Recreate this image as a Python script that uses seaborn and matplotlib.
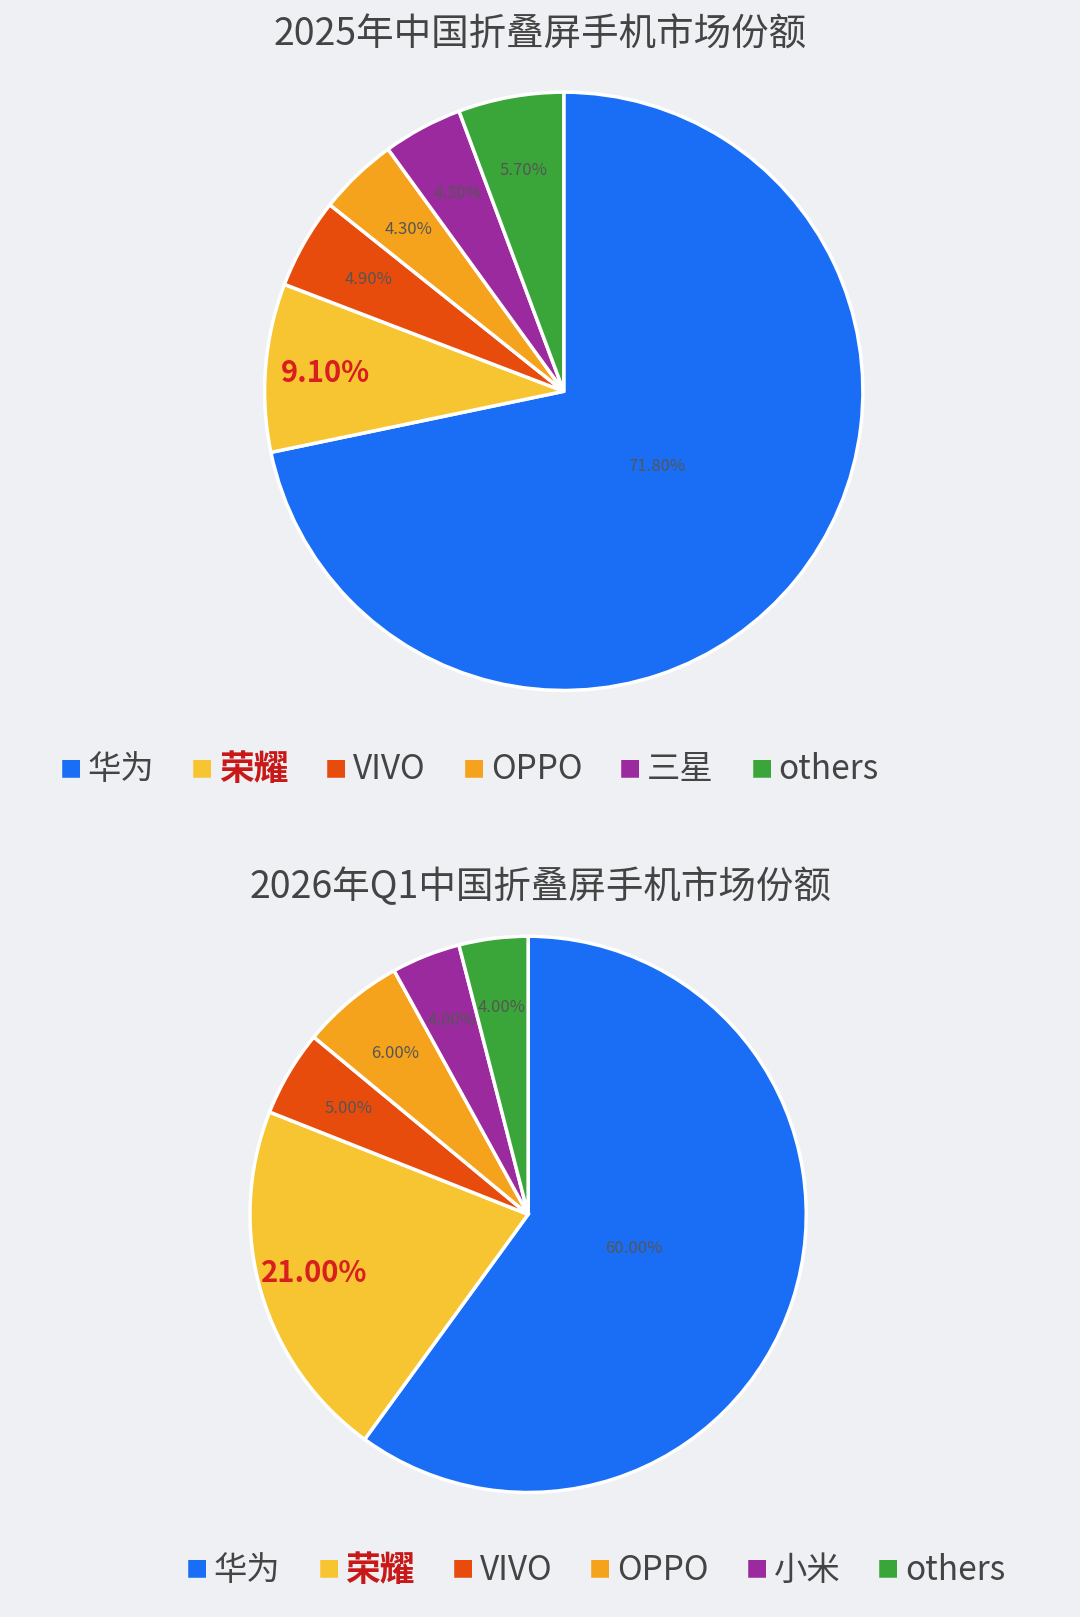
import matplotlib
matplotlib.use("Agg")
import matplotlib.pyplot as plt
import seaborn as sns
import numpy as np

sns.set_theme(style="white")
plt.rcParams['font.family'] = ['Noto Sans CJK SC', 'DejaVu Sans']

title_2025 = "2025年中国折叠屏手机市场份额"
brands_2025 = ["华为", "荣耀", "VIVO", "OPPO", "三星", "others"]
share_2025 = [71.8, 9.1, 4.9, 4.3, 4.3, 5.7]

title_2026 = "2026年Q1中国折叠屏手机市场份额"
brands_2026 = ["华为", "荣耀", "VIVO", "OPPO", "小米", "others"]
share_2026 = [60.0, 21.0, 5.0, 6.0, 4.0, 4.0]

colors = sns.color_palette(["#1a6ef5", "#f7c531", "#e84c0c", "#f5a21c", "#9b2a9e", "#3aa63a"])

fig = plt.figure(figsize=(10.8, 16.17), dpi=100)
fig.patch.set_facecolor("#eef0f3")


def draw_pie(rect, values, brands, title, title_y, legend_y, legend_x0):
    ax = fig.add_axes(rect)
    wedges, texts = ax.pie(values, colors=colors, startangle=90, counterclock=False,
                           wedgeprops=dict(edgecolor="white", linewidth=2.5))
    ax.set_xlim(-1.0, 1.0)
    ax.set_ylim(-1.0, 1.0)
    ax.set_aspect("equal")
    for i, (w, v) in enumerate(zip(wedges, values)):
        ang = np.deg2rad((w.theta1 + w.theta2) / 2)
        r = 0.4 if i == 0 else 0.75
        x, y = r * np.cos(ang), r * np.sin(ang)
        if i == 1:
            ax.text(x - 0.05, y, f"{v:.2f}%", ha="center", va="center",
                    fontsize=21, fontweight="bold", color="#d81e1e")
        else:
            ax.text(x, y, f"{v:.2f}%", ha="center", va="center",
                    fontsize=12, color="#555555")
    fig.text(0.5, title_y, title, ha="center", va="center", fontsize=27, color="#444444")
    x = legend_x0
    for i, (name, c) in enumerate(zip(brands, colors)):
        fig.text(x, legend_y, "■", color=c, fontsize=16, ha="left", va="center")
        if i == 1:
            t = fig.text(x + 0.026, legend_y, name, fontsize=25, fontweight="bold",
                         color="#c81818", ha="left", va="center")
        else:
            t = fig.text(x + 0.026, legend_y, name, fontsize=24,
                         color="#444444", ha="left", va="center")
        fig.canvas.draw()
        bb = t.get_window_extent()
        x = bb.x1 / fig.bbox.width + 0.034


draw_pie([0.245, 0.573, 0.554, 0.370], share_2025, brands_2025, title_2025, 0.978, 0.524, 0.055)
draw_pie([0.231, 0.077, 0.516, 0.344], share_2026, brands_2026, title_2026, 0.451, 0.029, 0.172)

fig.savefig("out.png", dpi=100, facecolor=fig.get_facecolor())
